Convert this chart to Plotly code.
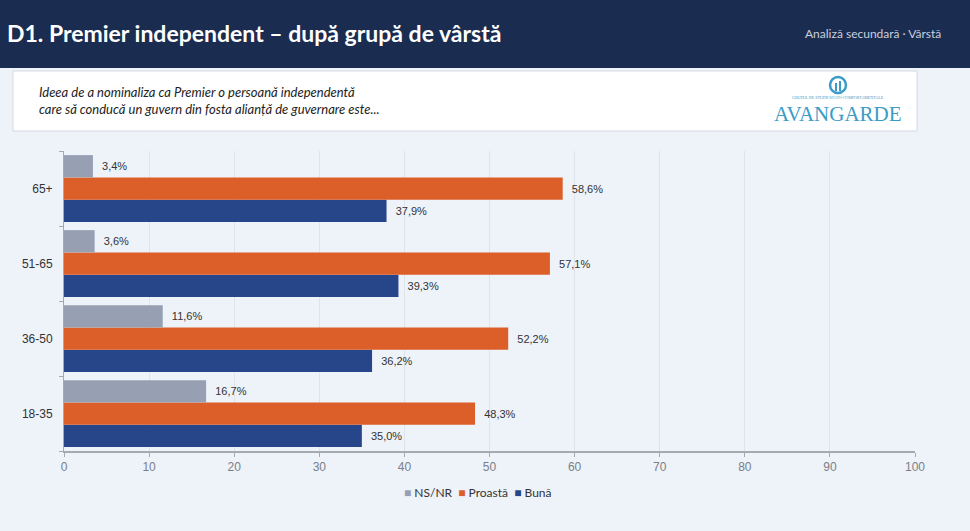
import plotly.graph_objects as go

categories = ["18-35", "36-50", "51-65", "65+"]
nsnr = [16.7, 11.6, 3.6, 3.4]
proasta = [48.3, 52.2, 57.1, 58.6]
buna = [35.0, 36.2, 39.3, 37.9]
x_ticks = [0, 10, 20, 30, 40, 50, 60, 70, 80, 90, 100]

W, H = 970, 531
L, R, T, B = 64, 55, 151, 80
PW, PH = W - L - R, H - T - B


def px(x):
    return (x - L) / PW


def py(y):
    return (H - B - y) / PH


def lab(vals):
    return ["  " + f"{v:.1f}%".replace(".", ",") for v in vals]


fig = go.Figure()
series = [("Bună", buna, "#27468a"), ("Proastă", proasta, "#dc5f2a"), ("NS/NR", nsnr, "#97a0b3")]
for name, vals, col in series:
    fig.add_trace(go.Bar(
        y=categories, x=vals, name=name, orientation="h",
        marker=dict(color=col, line=dict(width=0)),
        text=lab(vals), textposition="outside", cliponaxis=False,
        textfont=dict(family="Liberation Sans, Arial", size=11, color="#333333"),
        showlegend=False,
    ))

legend_html = "&nbsp;&nbsp;".join(
    f"<span style='color:{col}'>■</span>&nbsp;{name}" for name, vals, col in reversed(series)
)

shapes = [
    dict(type="rect", xref="paper", yref="paper", x0=px(0), x1=px(W), y0=py(68), y1=py(-2),
         fillcolor="#1b2c51", line=dict(width=0), layer="below"),
    dict(type="rect", xref="paper", yref="paper", x0=px(13), x1=px(917), y0=py(131), y1=py(71),
         fillcolor="#ffffff", line=dict(color="#d3d9e3", width=1), layer="below"),
    dict(type="circle", xref="paper", yref="paper", x0=px(830), x1=px(846), y0=py(93), y1=py(77),
         fillcolor="rgba(0,0,0,0)", line=dict(color="#3a9cc6", width=2.5)),
    dict(type="line", xref="paper", yref="paper", x0=px(836), x1=px(836), y0=py(91), y1=py(83),
         line=dict(color="#3a9cc6", width=2)),
    dict(type="line", xref="paper", yref="paper", x0=px(840), x1=px(840), y0=py(91), y1=py(81),
         line=dict(color="#3a9cc6", width=2)),
]

annotations = [
    dict(text="<b>D1. Premier independent – după grupă de vârstă</b>", xref="paper", yref="paper",
         x=px(5), y=py(33), xanchor="left", yanchor="middle", showarrow=False,
         font=dict(family="Lato, Open Sans", size=23, color="#ffffff")),
    dict(text="Analiză secundară · Vârstă", xref="paper", yref="paper",
         x=px(943), y=py(33), xanchor="right", yanchor="middle", showarrow=False,
         font=dict(family="Lato, Open Sans", size=12, color="#c9d0df")),
    dict(text="<i>Ideea de a nominaliza ca Premier o persoană independentă<br>care să conducă un guvern din fosta alianță de guvernare este...</i>",
         xref="paper", yref="paper", x=px(37), y=py(101), xanchor="left", yanchor="middle",
         align="left", showarrow=False,
         font=dict(family="Lato, Open Sans", size=13, color="#222222")),
    dict(text="GRUPUL DE STUDII SOCIO-COMPORTAMENTALE", xref="paper", yref="paper",
         x=px(838), y=py(97), xanchor="center", yanchor="middle", showarrow=False,
         font=dict(family="Liberation Serif", size=4, color="#3a9cc6")),
    dict(text="AVANGARDE", xref="paper", yref="paper",
         x=px(838), y=py(114), xanchor="center", yanchor="middle", showarrow=False,
         font=dict(family="Liberation Serif", size=21, color="#3a9cc6")),
    dict(text=legend_html, xref="paper", yref="paper",
         x=px(478), y=py(492), xanchor="center", yanchor="middle", showarrow=False,
         font=dict(family="Lato, Open Sans", size=12, color="#333333")),
]

fig.update_layout(
    width=W, height=H,
    margin=dict(l=L, r=R, t=T, b=B, pad=0),
    paper_bgcolor="#eef2f9", plot_bgcolor="#eef2f9",
    barmode="group", bargap=0.11, bargroupgap=0,
    shapes=shapes, annotations=annotations,
    showlegend=False,
    xaxis=dict(range=[0, 100], tickvals=x_ticks, showgrid=True, gridcolor="#dfe4ec", gridwidth=1,
               zeroline=False, showline=True, linecolor="#a5a9b0", linewidth=2,
               ticks="outside", ticklen=4, tickcolor="#a5a9b0",
               tickfont=dict(family="Liberation Sans, Arial", size=12, color="#7a7f88"), fixedrange=True),
    yaxis=dict(categoryorder="array", categoryarray=categories, showgrid=False,
               showline=True, linecolor="#a5a9b0", linewidth=1,
               ticks="outside", ticklen=4, tickcolor="#a5a9b0", tickson="boundaries",
               ticklabelstandoff=8,
               tickfont=dict(family="Liberation Sans, Arial", size=12, color="#333333"), fixedrange=True),
)

fig.write_html("out.html")
